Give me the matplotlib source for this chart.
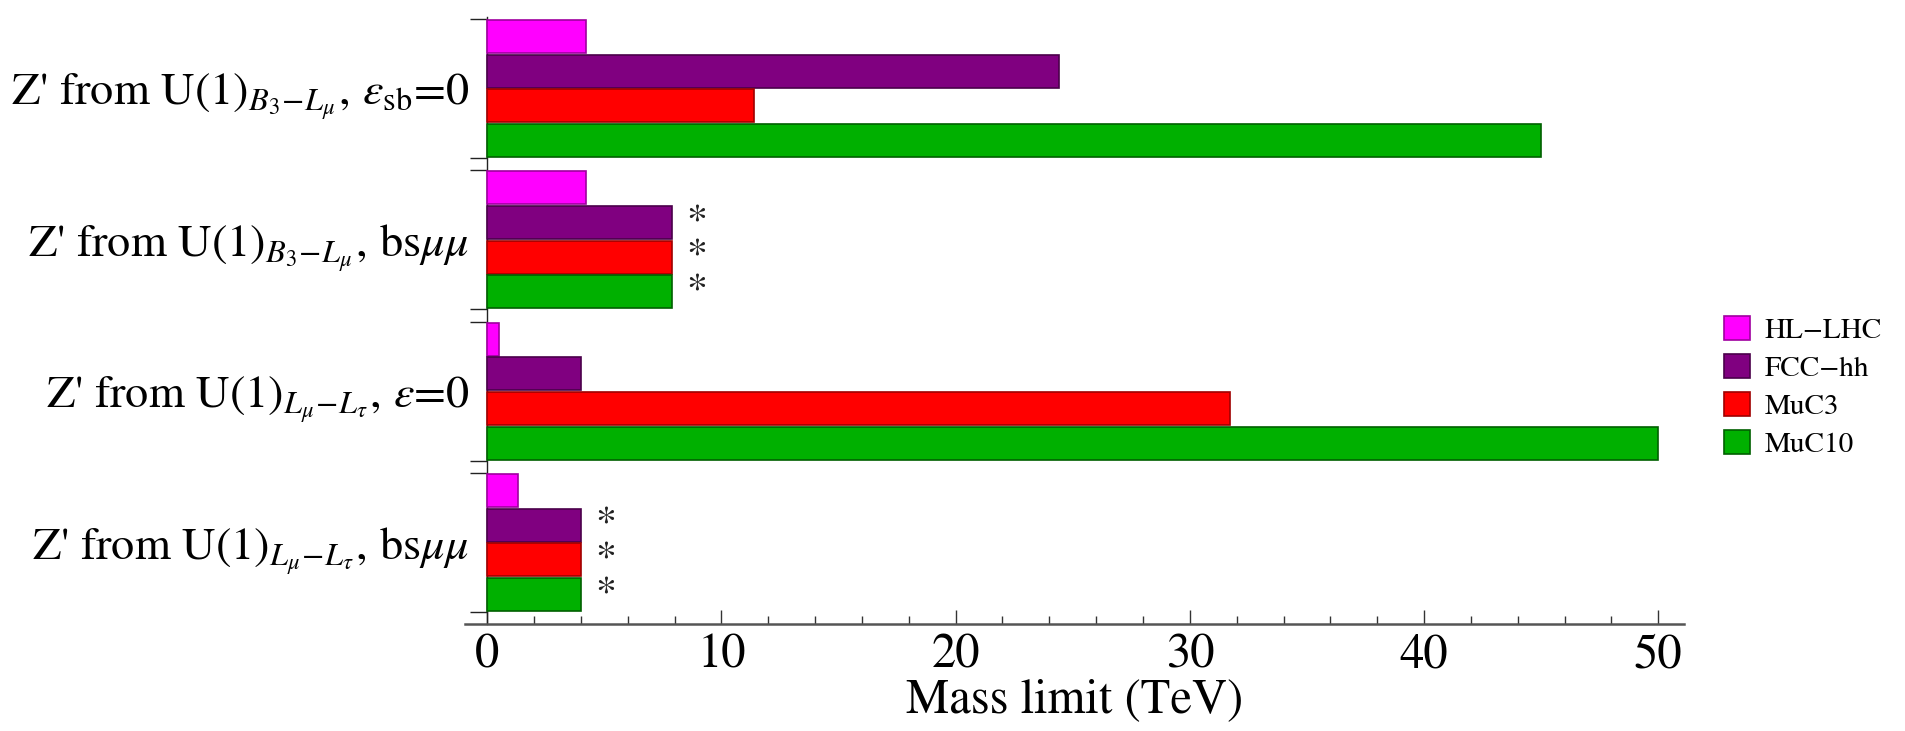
import matplotlib
matplotlib.use("Agg")
import matplotlib.pyplot as plt
import numpy as np
from matplotlib.ticker import MultipleLocator, FixedLocator
from matplotlib.patches import Patch

plt.rcParams['font.family'] = ['STIXGeneral', 'DejaVu Serif']
plt.rcParams['mathtext.fontset'] = 'stix'

categories = [
    r"Z' from U(1)$_{B_3\!-\!L_\mu},\,\varepsilon_{\rm sb}$=0",
    r"Z' from U(1)$_{B_3\!-\!L_\mu},\,$bs$\mu\mu$",
    r"Z' from U(1)$_{L_\mu\!-\!L_\tau},\,\varepsilon$=0",
    r"Z' from U(1)$_{L_\mu\!-\!L_\tau},\,$bs$\mu\mu$",
]
series = ["HL\u2212LHC", "FCC\u2212hh", "MuC3", "MuC10"]
hl_lhc = [4.2, 4.2, 0.5, 1.3]
fcc_hh = [24.4, 7.9, 4.0, 4.0]
muc3 = [11.4, 7.9, 31.7, 4.0]
muc10 = [45.0, 7.9, 50.0, 4.0]
starred = [False, True, False, True]   # groups whose non-HL bars carry a '*'

values = [hl_lhc, fcc_hh, muc3, muc10]
colors = ["#FF00FF", "#800080", "#FF0000", "#00B000"]
edges = ["#A000A0", "#4A004A", "#A00000", "#006000"]

fig = plt.figure(figsize=(19.06, 7.31), dpi=100)
ax = fig.add_axes([465/1906, 1-624/731, (1684-465)/1906, (624-17)/731])

half = 0.4585
pitch = 2*half/4
bh = 0.218
for j, (vals, c, ec) in enumerate(zip(values, colors, edges)):
    ys = [k - half + pitch*(j+0.5) for k in range(len(categories))]
    ax.barh(ys, vals, height=bh, color=c, edgecolor=ec, linewidth=1.2, zorder=3)
    if j > 0:
        for k, (y, v) in enumerate(zip(ys, vals)):
            if starred[k]:
                ax.text(v + 1.05, y, "*", ha='center', va='center', fontsize=30, color='#222222')

ax.set_xlim(-0.95, 51.1)
ax.set_ylim(3 + half + 12/151.5, -half - 2/151.5)

ax.spines['top'].set_visible(False)
ax.spines['right'].set_visible(False)
ax.spines['left'].set_position(('data', 0))
ax.spines['left'].set_linewidth(1.0)
ax.spines['left'].set_color('#222222')
ax.spines['bottom'].set_linewidth(1.8)
ax.spines['bottom'].set_color('#555555')

ax.xaxis.set_major_locator(MultipleLocator(10))
ax.xaxis.set_minor_locator(MultipleLocator(2))
ax.tick_params(axis='x', which='major', direction='in', length=10, width=1.0, color='#333333', pad=7, labelsize=35)
ax.tick_params(axis='x', which='minor', direction='in', length=6, width=1.0, color='#333333')

ax.set_yticks(range(len(categories)))
ax.set_yticklabels(categories)
bounds = []
for k in range(len(categories)):
    bounds += [k - half, k + half]
ax.yaxis.set_minor_locator(FixedLocator(bounds))
ax.tick_params(axis='y', which='major', length=0, pad=13, labelsize=36)
ax.tick_params(axis='y', which='minor', direction='out', length=12.5, width=1.0, color='#222222')

ax.set_xlabel("Mass limit (TeV)", fontsize=35, labelpad=0)

handles = [Patch(facecolor=c, edgecolor=ec, linewidth=1.2) for c, ec in zip(colors, edges)]
leg = fig.legend(handles, series, loc='center right', bbox_to_anchor=(1882/1906, 1-387/731),
                 frameon=False, fontsize=21, handlelength=0.9, handleheight=0.9,
                 handletextpad=0.5, labelspacing=0.33, borderaxespad=0, borderpad=0)

# fit the widest category label to the width it has in the reference (~460 px)
fig.canvas.draw()
r = fig.canvas.get_renderer()
widest = max(t.get_window_extent(r).width for t in ax.get_yticklabels())
ax.tick_params(axis='y', which='major', labelsize=36 * 458 / widest)

fig.savefig("out.png", dpi=100)
